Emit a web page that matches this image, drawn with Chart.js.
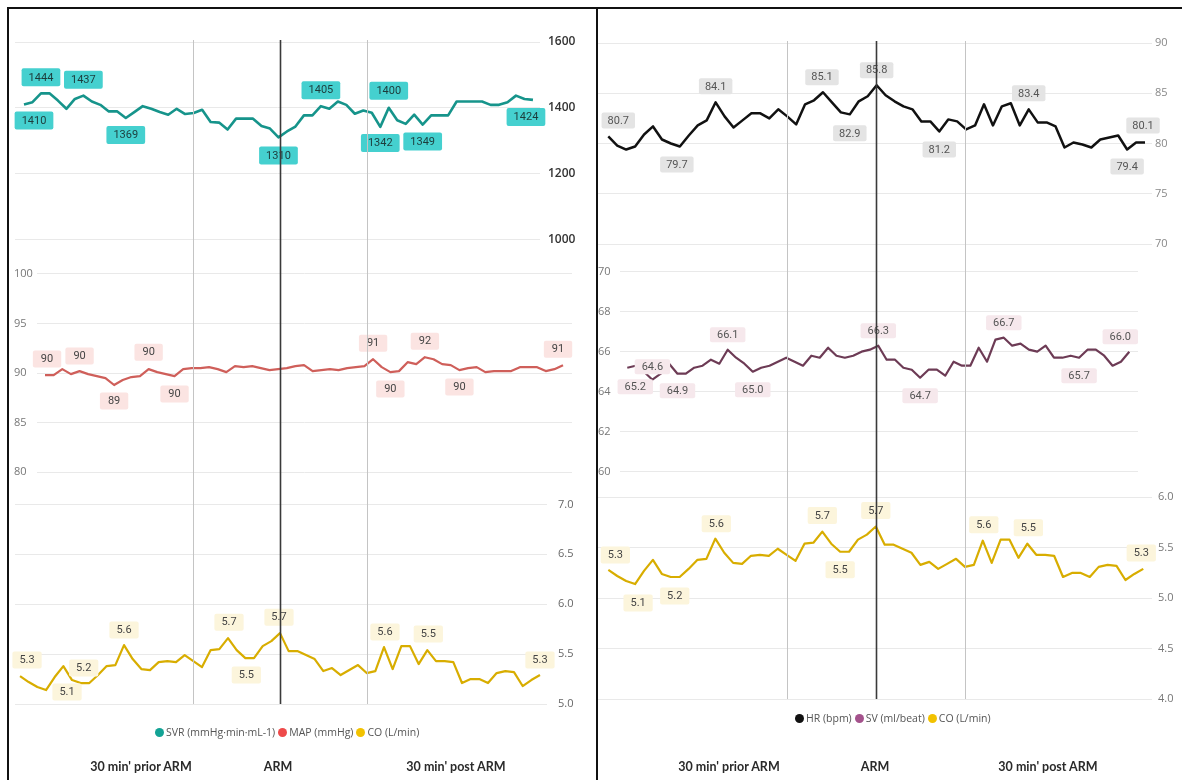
<!DOCTYPE html>
<html>
<head>
<meta charset="utf-8">
<script src="https://cdn.jsdelivr.net/npm/chart.js@4.4.1/dist/chart.umd.min.js"></script>
<style>
  body { margin: 0; background: #fff; }
  #wrap { position: relative; width: 1182px; height: 780px; overflow: hidden; background: #fff; }
  canvas { position: absolute; top: 0; }
  .bar { position: absolute; background: #111; }
  .legend { position: absolute; font: 10.5px "Open Sans", sans-serif; color: #555; white-space: nowrap; line-height: 14px; }
  .legend i { display: inline-block; width: 9px; height: 9px; border-radius: 50%; margin: 0 2px 0 3px; vertical-align: -1px; }
  .phase { position: absolute; top: 759px; font: 700 12.5px Lato, sans-serif; color: #2a2a2a; transform: translateX(-50%); white-space: nowrap; line-height: 16px; }
</style>
</head>
<body>
<div id="wrap">
  <canvas id="svr" width="590" height="780" style="left:0"></canvas>
  <canvas id="map" width="590" height="780" style="left:0"></canvas>
  <canvas id="coL" width="590" height="780" style="left:0"></canvas>
  <canvas id="hr" width="592" height="780" style="left:590px"></canvas>
  <canvas id="sv" width="592" height="780" style="left:590px"></canvas>
  <canvas id="coR" width="592" height="780" style="left:590px"></canvas>

  <div class="bar" style="left:7px;top:7px;width:1175px;height:2px"></div>
  <div class="bar" style="left:7px;top:7px;width:2px;height:773px"></div>
  <div class="bar" style="left:596px;top:7px;width:2px;height:773px"></div>

  <div class="legend" style="left:152px;top:725px"><i style="background:#13a395"></i>SVR (mmHg·min·mL-1)<i style="background:#ee4a4a"></i>MAP (mmHg)<i style="background:#f2c200"></i>CO (L/min)</div>
  <div class="legend" style="left:792px;top:711px"><i style="background:#111"></i>HR (bpm)<i style="background:#a4528c"></i>SV (ml/beat)<i style="background:#f2c200"></i>CO (L/min)</div>

  <div class="phase" style="left:141px">30 min' prior ARM</div>
  <div class="phase" style="left:278px">ARM</div>
  <div class="phase" style="left:456px">30 min' post ARM</div>
  <div class="phase" style="left:729px">30 min' prior ARM</div>
  <div class="phase" style="left:875px">ARM</div>
  <div class="phase" style="left:1048px">30 min' post ARM</div>
</div>
<script>
// minutes relative to the ARM manoeuvre
const minutes = [-30, -29, -28, -27, -26, -25, -24, -23, -22, -21, -20, -19, -18, -17, -16, -15, -14, -13, -12, -11,
  -10, -9, -8, -7, -6, -5, -4, -3, -2, -1, 0, 1, 2, 3, 4, 5, 6, 7, 8, 9,
  10, 11, 12, 13, 14, 15, 16, 17, 18, 19, 20, 21, 22, 23, 24, 25, 26, 27, 28, 29, 30];

const svrValues = [1410, 1417, 1444, 1444, 1422, 1397, 1427, 1437, 1419, 1409,
  1389, 1389, 1369, 1387, 1405, 1397, 1387, 1379, 1397, 1381,
  1384, 1394, 1357, 1355, 1334, 1367, 1367, 1367, 1345, 1337,
  1310, 1328, 1343, 1377, 1377, 1405, 1397, 1419, 1409, 1382,
  1392, 1385, 1342, 1400, 1362, 1351, 1379, 1349, 1377, 1377,
  1377, 1419, 1419, 1419, 1419, 1409, 1409, 1417, 1437, 1427, 1424];

const mapValues = [89.8, 89.8, 90.4, 89.9, 90.2, 89.9, 89.7, 89.5, 88.8, 89.3,
  89.6, 89.7, 90.4, 90.1, 89.9, 89.7, 90.4, 90.5, 90.5, 90.6,
  90.4, 90.1, 90.7, 90.6, 90.7, 90.5, 90.3, 90.4, 90.5, 90.7,
  90.8, 90.2, 90.3, 90.4, 90.3, 90.5, 90.6, 90.7, 91.4, 90.6,
  90.1, 90.2, 91.1, 90.9, 91.6, 91.4, 90.9, 90.8, 90.3, 90.5,
  90.6, 90.1, 90.2, 90.2, 90.2, 90.6, 90.6, 90.6, 90.2, 90.4, 90.8];

const coValues = [5.28, 5.22, 5.17, 5.14, 5.27, 5.38, 5.24, 5.21, 5.21, 5.29,
  5.38, 5.39, 5.59, 5.45, 5.35, 5.34, 5.42, 5.43, 5.42, 5.49,
  5.43, 5.37, 5.54, 5.55, 5.66, 5.54, 5.46, 5.46, 5.58, 5.63,
  5.71, 5.53, 5.53, 5.49, 5.45, 5.33, 5.36, 5.29, 5.34, 5.39,
  5.31, 5.33, 5.57, 5.35, 5.58, 5.58, 5.40, 5.54, 5.43, 5.43,
  5.42, 5.21, 5.25, 5.25, 5.21, 5.31, 5.33, 5.32, 5.18, 5.24, 5.29];

const hrValues = [80.7, 79.8, 79.4, 79.7, 80.9, 81.7, 80.4, 80.0, 79.7, 80.8,
  81.8, 82.3, 84.1, 82.7, 81.6, 82.3, 83.0, 83.0, 82.5, 83.4,
  82.7, 81.9, 83.9, 84.3, 85.1, 84.1, 83.1, 82.9, 84.2, 84.7,
  85.8, 84.8, 84.2, 83.7, 83.4, 82.2, 82.2, 81.2, 82.4, 82.2,
  81.4, 81.8, 83.9, 81.8, 83.7, 84.0, 81.8, 83.4, 82.1, 82.1,
  81.7, 79.6, 80.1, 79.9, 79.6, 80.4, 80.6, 80.8, 79.4, 80.1, 80.1];

const svValues = [65.2, 65.3, 65.0, 64.6, 64.9, 65.4, 64.9, 64.9, 65.2, 65.3,
  65.6, 65.4, 66.1, 65.7, 65.4, 65.0, 65.2, 65.3, 65.5, 65.7,
  65.5, 65.3, 65.8, 65.7, 66.2, 65.8, 65.7, 65.8, 66.0, 66.1,
  66.3, 65.6, 65.6, 65.2, 65.1, 64.7, 65.1, 65.1, 64.8, 65.5,
  65.3, 65.3, 66.2, 65.5, 66.6, 66.7, 66.3, 66.4, 66.1, 66.0,
  66.3, 65.7, 65.7, 65.8, 65.7, 66.1, 66.1, 65.8, 65.3, 65.5, 66.0];

// axis tick values for each visual
const svrTicks = [1000, 1200, 1400, 1600];
const mapTicks = [80, 85, 90, 95, 100];
const coTicksL = [5.0, 5.5, 6.0, 6.5, 7.0];
const hrTicks = [70, 75, 80, 85, 90];
const svTicks = [60, 62, 64, 66, 68, 70];
const coTicksR = [4.0, 4.5, 5.0, 5.5, 6.0];

// reference lines: 10 min before, ARM, 10 min after
const markers = [-10, 0, 10];

// which points carry a value box: [index, dy, dx]
const svrLabels = [[0, 16, 10], [2, -16, 0], [7, -16, 0], [12, 17, 0], [30, 18, 0], [35, -16, 0], [42, 16, 0], [43, -17, 0], [47, 17, 0], [60, 17, -7]];
const mapLabels = [[0, -16, 2], [4, -15, 0], [8, 16, 0], [12, -17, 0], [15, 18, 0], [38, -16, 0], [40, 17, 0], [44, -16, 0], [48, 17, 0], [60, -16, -5]];
const coLabelsL = [[0, -16, 7], [3, 2, 21], [7, -15, 3], [12, -15, 0], [24, -16, 1], [26, 17, 1], [30, -16, -1], [42, -15, 1], [47, -16, 1], [60, -15, 0]];
const hrLabels = [[0, -16, 10], [8, 18, -3], [12, -16, 0], [24, -15, -1], [27, 19, 0], [30, -15, 0], [37, 18, 0], [47, -16, 0], [58, 17, 0], [60, -17, -2]];
const svLabels = [[0, 19, 8], [3, -13, 0], [6, 17, 0], [12, -15, 0], [15, 18, 0], [30, -15, 0], [35, 18, 0], [45, -15, 0], [54, 18, 0], [60, -15, -9]];
const coLabelsR = [[0, -15, 7], [3, 19, 3], [7, 19, 4], [12, -15, 1], [24, -16, 0], [26, 18, 0], [30, -16, 0], [42, -16, 1], [47, -16, 1], [60, -16, -2]];

const labelFont = "11px Roboto, sans-serif";

// draws the little value boxes next to chosen points
function boxLabels(spec, st) {
  return {
    id: "boxLabels",
    afterDatasetsDraw(chart) {
      const ctx = chart.ctx;
      const meta = chart.getDatasetMeta(0);
      const pts = chart.data.datasets[0].data;
      ctx.save();
      ctx.font = labelFont;
      ctx.textAlign = "center";
      ctx.textBaseline = "middle";
      spec.forEach(([i, dy, dx]) => {
        const p = meta.data[i];
        const text = pts[i].y.toFixed(st.dec);
        const w = ctx.measureText(text).width + 2 * st.padX;
        const cx = p.x + dx, cy = p.y + dy;
        ctx.fillStyle = st.bg;
        ctx.beginPath();
        ctx.roundRect(cx - w / 2, cy - st.h / 2, w, st.h, 2);
        ctx.fill();
        ctx.fillStyle = st.color;
        ctx.fillText(text, cx, cy + 0.5);
      });
      ctx.restore();
    },
  };
}

// vertical phase lines, placed with the chart's own x scale
const phaseLines = {
  id: "phaseLines",
  afterDatasetsDraw(chart) {
    const { ctx, chartArea: a, scales } = chart;
    ctx.save();
    markers.forEach((m) => {
      const x = Math.round(scales.x.getPixelForValue(m)) + 0.5;
      ctx.strokeStyle = m === 0 ? "#3a3a3a" : "#c4c4c4";
      ctx.lineWidth = m === 0 ? 1.6 : 1;
      ctx.beginPath();
      ctx.moveTo(x, a.top - 2);
      ctx.lineTo(x, a.bottom);
      ctx.stroke();
    });
    ctx.restore();
  },
};

function lineChart(id, c) {
  return new Chart(document.getElementById(id), {
    type: "line",
    data: {
      datasets: [{
        data: minutes.map((m, i) => ({ x: m, y: c.values[i] })),
        borderColor: c.color,
        borderWidth: c.width,
        pointRadius: 0,
        tension: 0,
        borderJoinStyle: "round",
      }],
    },
    options: {
      responsive: false,
      animation: false,
      events: [],
      layout: { padding: c.pad },
      plugins: { legend: { display: false }, tooltip: { enabled: false } },
      scales: {
        x: { type: "linear", display: false, min: c.x[0], max: c.x[1] },
        y: {
          position: c.side,
          min: c.y[0],
          max: c.y[1],
          border: { display: false },
          grid: { color: "#e9e9e9", drawTicks: false },
          afterBuildTicks: (s) => { s.ticks = c.ticks.map((v) => ({ value: v })); },
          afterFit: (s) => { s.width = c.axisW; },
          ticks: {
            padding: c.tickPad,
            crossAlign: c.side === "left" ? "far" : "near",
            color: c.tickColor,
            font: { family: "'Open Sans', sans-serif", size: c.tickSize || 11, weight: c.tickWeight || "normal" },
            callback: (v) => Number(v).toFixed(c.tickDec),
          },
        },
      },
    },
    plugins: [boxLabels(c.labels, c.box)].concat(c.extra || []),
  });
}

// left panel
lineChart("svr", {
  values: svrValues, color: "#16948b", width: 2.6,
  pad: { left: 15, right: 0, top: 42, bottom: 76 }, side: "right", axisW: 50, tickPad: 8,
  x: [-31.06, 30.83], y: [-412, 1600], ticks: svrTicks, tickDec: 0,
  tickColor: "#333", tickSize: 12, tickWeight: "600",
  labels: svrLabels, box: { dec: 0, bg: "#45d0cf", color: "#1d3b3b", h: 18, padX: 7 },
});
lineChart("map", {
  values: mapValues, color: "#cf5f5a", width: 2.2,
  pad: { left: 14, right: 18, top: 42, bottom: 76 }, side: "left", axisW: 23, tickPad: 4,
  x: [-30.93, 31.04], y: [56.65, 123.37], ticks: mapTicks, tickDec: 0,
  tickColor: "#777",
  labels: mapLabels, box: { dec: 0, bg: "#fbe4e2", color: "#444", h: 17, padX: 8 },
});
lineChart("coL", {
  values: coValues, color: "#d8ad00", width: 2.2,
  pad: { left: 15, right: 0, top: 42, bottom: 76 }, side: "right", axisW: 43, tickPad: 11,
  x: [-30.58, 30.81], y: [5.0, 11.633], ticks: coTicksL, tickDec: 1,
  tickColor: "#666",
  labels: coLabelsL, box: { dec: 1, bg: "#fcf5dc", color: "#444", h: 17, padX: 7 },
  extra: [phaseLines],
});

// right panel
lineChart("hr", {
  values: hrValues, color: "#111", width: 2.5,
  pad: { left: 8, right: 0, top: 43, bottom: 81 }, side: "right", axisW: 30, tickPad: 3,
  x: [-31.15, 30.78], y: [24.73, 90], ticks: hrTicks, tickDec: 0,
  tickColor: "#888",
  labels: hrLabels, box: { dec: 1, bg: "#e4e4e4", color: "#555", h: 16, padX: 6 },
});
lineChart("sv", {
  values: svValues, color: "#6d3b55", width: 2.2,
  pad: { left: 8, right: 44, top: 43, bottom: 81 }, side: "left", axisW: 22, tickPad: 3,
  x: [-30.87, 31.04], y: [48.64, 81.43], ticks: svTicks, tickDec: 0,
  tickColor: "#777",
  labels: svLabels, box: { dec: 1, bg: "#f6e8ec", color: "#555", h: 15, padX: 7 },
});
lineChart("coR", {
  values: coValues, color: "#d8ad00", width: 2.2,
  pad: { left: 8, right: 0, top: 43, bottom: 81 }, side: "right", axisW: 30, tickPad: 6,
  x: [-31.16, 30.98], y: [4.0, 10.505], ticks: coTicksR, tickDec: 1,
  tickColor: "#777",
  labels: coLabelsR, box: { dec: 1, bg: "#fcf5dc", color: "#444", h: 17, padX: 7 },
  extra: [phaseLines],
});
</script>
</body>
</html>
